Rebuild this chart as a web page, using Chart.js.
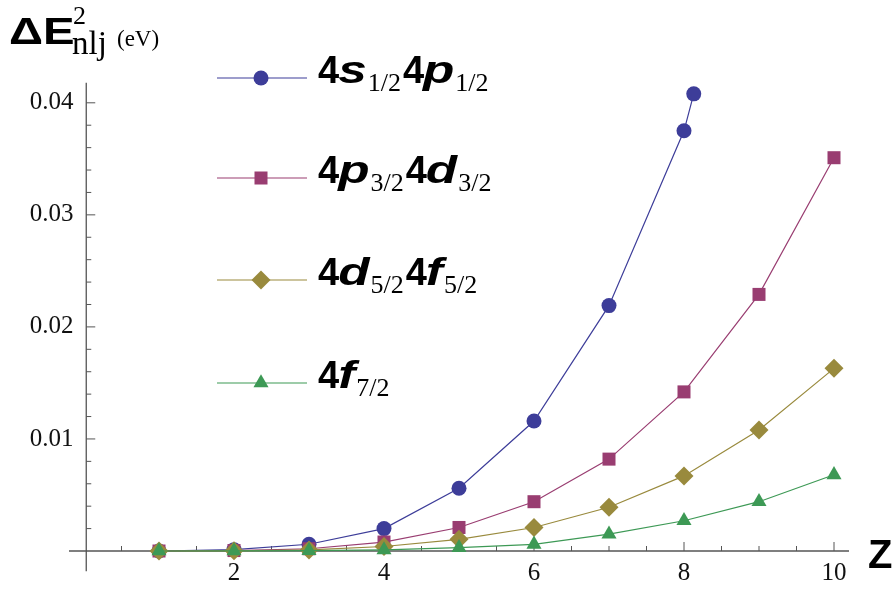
<!DOCTYPE html>
<html>
<head>
<meta charset="utf-8">
<script src="https://cdn.jsdelivr.net/npm/chart.js@4.4.1/dist/chart.umd.min.js"></script>
<style>
  html, body { margin: 0; padding: 0; background: #ffffff; }
  #wrap { width: 896px; height: 593px; position: relative; }
</style>
</head>
<body>
<div id="wrap"><canvas id="c" width="896" height="593"></canvas></div>
<script>
// ---- data ----
const zValues      = [1, 2, 3, 4, 5, 6, 7, 8, 9, 10];
const zValues4s4p  = [1, 2, 3, 4, 5, 6, 7, 8, 8.13];
const series4s4p   = [0, 0.00012, 0.0006, 0.002, 0.0056, 0.0116, 0.0219, 0.0375, 0.0408];
const series4p4d   = [0, 0.00004, 0.0002, 0.0008, 0.0021, 0.0044, 0.0082, 0.0142, 0.0229, 0.0351];
const series4d4f   = [0, 0.00002, 0.0001, 0.0004, 0.00104, 0.0021, 0.0039, 0.0067, 0.0108, 0.0163];
const series4f     = [0, 0.00001, 0.00004, 0.0001, 0.0003, 0.0006, 0.0015, 0.0027, 0.0044, 0.0068];

const xTickValues = [2, 4, 6, 8, 10];
const xTickLabels = ['2', '4', '6', '8', '10'];
const yTickValues = [0.01, 0.02, 0.03, 0.04];
const yTickLabels = ['0.01', '0.02', '0.03', '0.04'];

// legend texts: [text, style]  b = bold, bi = bold italic, sub = subscript
const legend4s4p = [['4','b'],['s','bi'],['1/2','sub'],['4','b'],['p','bi'],['1/2','sub']];
const legend4p4d = [['4','b'],['p','bi'],['3/2','sub'],['4','b'],['d','bi'],['3/2','sub']];
const legend4d4f = [['4','b'],['d','bi'],['5/2','sub'],['4','b'],['f','bi'],['5/2','sub']];
const legend4f   = [['4','b'],['f','bi'],['7/2','sub']];

const yAxisTitle = 'ΔE';
const yAxisSup = '2';
const yAxisSub = 'nlj';
const yAxisUnit = '(eV)';
const xAxisTitle = 'Z';

// ---- styles ----
const COLORS = ['#3d3d99', '#993d71', '#998a3d', '#3d9955'];
const toPts = (xs, ys) => ys.map((y, i) => ({ x: xs[i], y: y }));

const datasets = [
  { data: toPts(zValues4s4p, series4s4p), borderColor: COLORS[0], backgroundColor: COLORS[0],
    pointStyle: 'circle', pointRadius: 7.5, order: 4, legend: legend4s4p, legendY: 78 },
  { data: toPts(zValues, series4p4d), borderColor: COLORS[1], backgroundColor: COLORS[1],
    pointStyle: 'rect', pointRadius: 9.2, order: 3, legend: legend4p4d, legendY: 178 },
  { data: toPts(zValues, series4d4f), borderColor: COLORS[2], backgroundColor: COLORS[2],
    pointStyle: 'rectRot', pointRadius: 9.5, order: 2, legend: legend4d4f, legendY: 280 },
  { data: toPts(zValues, series4f), borderColor: COLORS[3], backgroundColor: COLORS[3],
    pointStyle: 'triangle', pointRadius: 8.7, order: 1, legend: legend4f, legendY: 383 }
].map(d => Object.assign({
  borderWidth: 1.2, pointBorderWidth: 0, pointHoverRadius: 0, tension: 0, clip: false, fill: false
}, d));

function drawMarker(ctx, style, r, x, y) {
  if (Chart.helpers && Chart.helpers.drawPoint) {
    Chart.helpers.drawPoint(ctx, { pointStyle: style, radius: r, rotation: 0, borderWidth: 0 }, x, y);
    return;
  }
  ctx.beginPath();
  if (style === 'circle') ctx.arc(x, y, r, 0, Math.PI * 2);
  else if (style === 'rect') { const s = r * Math.SQRT1_2; ctx.rect(x - s, y - s, 2 * s, 2 * s); }
  else if (style === 'rectRot') { ctx.moveTo(x - r, y); ctx.lineTo(x, y - r); ctx.lineTo(x + r, y); ctx.lineTo(x, y + r); ctx.closePath(); }
  else { ctx.moveTo(x, y - r); ctx.lineTo(x + r * 0.866, y + r / 2); ctx.lineTo(x - r * 0.866, y + r / 2); ctx.closePath(); }
  ctx.fill();
}

const axesPlugin = {
  id: 'mmaAxes',
  beforeDatasetsDraw(chart) {
    const ctx = chart.ctx, xs = chart.scales.x, ys = chart.scales.y;
    const ox = xs.getPixelForValue(0.03), oy = ys.getPixelForValue(0);
    ctx.save();
    ctx.strokeStyle = '#555555';
    ctx.lineWidth = 1.3;
    ctx.beginPath();
    ctx.moveTo(xs.getPixelForValue(-0.2), oy); ctx.lineTo(xs.getPixelForValue(10.2), oy);
    ctx.moveTo(ox, ys.getPixelForValue(-0.0018)); ctx.lineTo(ox, ys.getPixelForValue(0.0418));
    ctx.stroke();
    ctx.lineWidth = 1;
    ctx.beginPath();
    for (let k = 1; k <= 20; k++) {           // x ticks every 0.5
      const v = k * 0.5, px = xs.getPixelForValue(v);
      const len = (k % 4 === 0) ? 9 : 5;
      ctx.moveTo(px, oy); ctx.lineTo(px, oy - len);
    }
    for (let k = 1; k <= 20; k++) {           // y ticks every 0.002
      const v = k * 0.002, py = ys.getPixelForValue(v);
      const len = (k % 5 === 0) ? 9 : 5;
      ctx.moveTo(ox, py); ctx.lineTo(ox + len, py);
    }
    ctx.stroke();
    ctx.restore();
  }
};

function drawStretched(ctx, t, x, baseline, sx) {
  ctx.save();
  ctx.translate(x, baseline);
  ctx.scale(sx, 1);
  ctx.fillText(t, 0, 0);
  ctx.restore();
  return ctx.measureText(t).width * sx;
}

function drawRich(ctx, parts, x, baseline) {
  let cx = x;
  for (const [t, s] of parts) {
    if (s === 'b') {
      ctx.font = 'bold 38px "Liberation Sans"';
      ctx.fillText(t, cx, baseline);
      cx += ctx.measureText(t).width - 1;
    } else if (s === 'bi') {
      ctx.font = 'italic bold 38px "Liberation Sans"';
      cx += drawStretched(ctx, t, cx, baseline, 1.35) + 1;
    } else {
      ctx.font = '26px "Liberation Serif"';
      ctx.fillText(t, cx, baseline + 8);
      cx += ctx.measureText(t).width + 2;
    }
  }
}

const overlayPlugin = {
  id: 'overlay',
  afterDraw(chart) {
    const ctx = chart.ctx;
    ctx.save();
    ctx.fillStyle = '#000000';
    ctx.textBaseline = 'alphabetic';
    ctx.textAlign = 'left';
    // y axis title
    ctx.font = 'bold 37px "Liberation Sans"';
    drawStretched(ctx, yAxisTitle, 9, 44, 1.28);
    ctx.font = '26px "Liberation Serif"';
    ctx.fillText(yAxisSup, 73, 24);
    ctx.font = '33px "Liberation Serif"';
    ctx.fillText(yAxisSub, 72, 54);
    ctx.font = '23px "Liberation Serif"';
    ctx.fillText(yAxisUnit, 117, 46);
    // x axis title
    ctx.font = 'bold 40px "Liberation Sans"';
    ctx.fillText(xAxisTitle, 868, 568);
    // legend
    chart.data.datasets.forEach(ds => {
      const y = ds.legendY;
      ctx.strokeStyle = ds.borderColor;
      ctx.lineWidth = 1.2;
      ctx.beginPath(); ctx.moveTo(217, y); ctx.lineTo(307, y); ctx.stroke();
      ctx.fillStyle = ds.backgroundColor;
      drawMarker(ctx, ds.pointStyle, ds.pointRadius, 261, y);
      ctx.fillStyle = '#000000';
      drawRich(ctx, ds.legend, 318, y + 5);
    });
    ctx.restore();
  }
};

new Chart(document.getElementById('c'), {
  type: 'line',
  data: { datasets: datasets },
  options: {
    responsive: false,
    animation: false,
    devicePixelRatio: 1,
    events: [],
    layout: { padding: { top: 86, right: 47, left: 0, bottom: 0 } },
    plugins: { legend: { display: false }, tooltip: { enabled: false }, title: { display: false } },
    scales: {
      x: {
        type: 'linear', min: -0.1, max: 10.2,
        grid: { display: false, drawTicks: false }, border: { display: false },
        afterBuildTicks: s => { s.ticks = xTickValues.map(v => ({ value: v })); },
        afterFit: s => { s.height = 42; },
        ticks: {
          padding: 7, autoSkip: false, maxRotation: 0, minRotation: 0, color: '#111111',
          font: { family: 'Liberation Serif', size: 25 },
          callback: (v, i) => xTickLabels[i]
        }
      },
      y: {
        type: 'linear', min: 0, max: 0.0415,
        grid: { display: false, drawTicks: false }, border: { display: false },
        afterBuildTicks: s => { s.ticks = yTickValues.map(v => ({ value: v })); },
        afterFit: s => { s.width = 76.5; },
        ticks: {
          padding: 3, color: '#111111',
          font: { family: 'Liberation Serif', size: 25 },
          callback: (v, i) => yTickLabels[i]
        }
      }
    }
  },
  plugins: [axesPlugin, overlayPlugin]
});
</script>
</body>
</html>
